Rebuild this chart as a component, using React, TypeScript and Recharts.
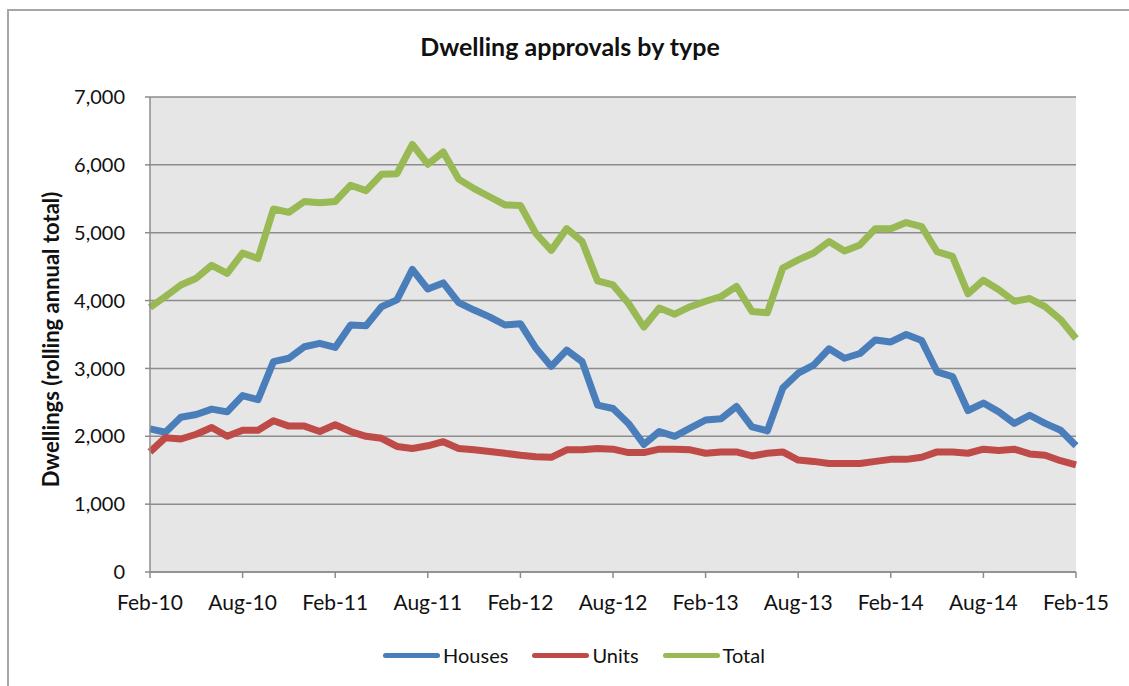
import { LineChart, Line, XAxis, YAxis, CartesianGrid, Legend } from "recharts";

const FONT = "Lato, 'Open Sans', sans-serif";

const months = [
  "Feb-10", "Mar-10", "Apr-10", "May-10", "Jun-10", "Jul-10", "Aug-10", "Sep-10", "Oct-10", "Nov-10", "Dec-10", "Jan-11",
  "Feb-11", "Mar-11", "Apr-11", "May-11", "Jun-11", "Jul-11", "Aug-11", "Sep-11", "Oct-11", "Nov-11", "Dec-11", "Jan-12",
  "Feb-12", "Mar-12", "Apr-12", "May-12", "Jun-12", "Jul-12", "Aug-12", "Sep-12", "Oct-12", "Nov-12", "Dec-12", "Jan-13",
  "Feb-13", "Mar-13", "Apr-13", "May-13", "Jun-13", "Jul-13", "Aug-13", "Sep-13", "Oct-13", "Nov-13", "Dec-13", "Jan-14",
  "Feb-14", "Mar-14", "Apr-14", "May-14", "Jun-14", "Jul-14", "Aug-14", "Sep-14", "Oct-14", "Nov-14", "Dec-14", "Jan-15",
  "Feb-15",
];

const houses = [
  2110, 2060, 2280, 2320, 2400, 2360, 2600, 2540, 3100, 3150, 3320, 3370,
  3310, 3640, 3630, 3910, 4010, 4460, 4170, 4260, 3970, 3860, 3760, 3640,
  3660, 3300, 3030, 3270, 3100, 2460, 2410, 2190, 1880, 2070, 2000, 2120,
  2240, 2260, 2440, 2140, 2080, 2710, 2930, 3050, 3290, 3150, 3220, 3420,
  3390, 3500, 3410, 2950, 2880, 2380, 2490, 2360, 2190, 2310, 2190, 2090,
  1860,
];

const units = [
  1770, 1980, 1960, 2030, 2130, 2000, 2090, 2090, 2230, 2150, 2150, 2070,
  2170, 2070, 2000, 1970, 1850, 1820, 1860, 1920, 1820, 1800, 1775, 1750,
  1720, 1700, 1690, 1800, 1800, 1820, 1810, 1760, 1760, 1810, 1810, 1800,
  1750, 1770, 1770, 1710, 1750, 1770, 1650, 1630, 1600, 1600, 1600, 1630,
  1660, 1660, 1690, 1770, 1770, 1750, 1810, 1790, 1810, 1740, 1720, 1640,
  1580,
];

const totals = [
  3900, 4060, 4230, 4330, 4520, 4400, 4700, 4620, 5350, 5300, 5460, 5440,
  5460, 5700, 5620, 5860, 5870, 6300, 6010, 6190, 5790, 5650, 5530, 5410,
  5400, 4990, 4740, 5060, 4870, 4290, 4230, 3960, 3610, 3890, 3800, 3910,
  3990, 4060, 4210, 3840, 3820, 4480, 4600, 4700, 4870, 4730, 4820, 5060,
  5060, 5150, 5090, 4720, 4650, 4100, 4300, 4160, 3990, 4030, 3910, 3720,
  3440,
];

const yTicks = [0, 1000, 2000, 3000, 4000, 5000, 6000, 7000];

const series = [
  { key: "Houses", color: "#4a7ebb", values: houses },
  { key: "Units", color: "#be4b48", values: units },
  { key: "Total", color: "#98b954", values: totals },
];

const data = months.map((m, i) => ({
  month: m,
  Houses: houses[i],
  Units: units[i],
  Total: totals[i],
}));

function LegendBox() {
  return (
    <div style={{ display: "flex", justifyContent: "center", alignItems: "center", gap: 24, height: 30, paddingLeft: 72, fontFamily: FONT, fontSize: 20, color: "#111" }}>
      {series.map((s) => (
        <div key={s.key} style={{ display: "flex", alignItems: "center" }}>
          <span style={{ display: "inline-block", width: 57, height: 5, borderRadius: 3, background: s.color, marginRight: 3 }} />
          <span>{s.key}</span>
        </div>
      ))}
    </div>
  );
}

const fmt = (v: number) => v.toLocaleString("en-US");

export default function App() {
  return (
    <div style={{ position: "absolute", left: 0, top: 0, width: 1129, height: 686, background: "#fff", overflow: "hidden" }}>
      <div style={{ position: "absolute", left: 7, top: 9, width: 1200, height: 800, border: "2px solid #a6a6a6" }} />
      <div style={{ position: "absolute", left: 0, top: 31, width: 1140, textAlign: "center", fontFamily: FONT, fontWeight: 700, fontSize: 25, color: "#111" }}>
        Dwelling approvals by type
      </div>
      <div style={{ position: "absolute", left: 0, top: 0 }}>
        <LineChart width={1129} height={686} data={data} margin={{ top: 97, right: 53, bottom: 16, left: 0 }}>
          <CartesianGrid vertical={false} stroke="#8c8c8c" strokeWidth={1.5} fill="#e6e6e6" />
          <XAxis
            dataKey="month"
            interval={5}
            height={68}
            tickSize={6}
            tickMargin={17}
            axisLine={{ stroke: "#8c8c8c", strokeWidth: 1.5 }}
            tickLine={{ stroke: "#8c8c8c", strokeWidth: 1.5 }}
            tick={{ fill: "#111", fontSize: 21, fontFamily: FONT }}
          />
          <YAxis
            width={150}
            domain={[0, 7000]}
            ticks={yTicks}
            tickFormatter={fmt}
            tickSize={5}
            tickMargin={20}
            axisLine={{ stroke: "#8c8c8c", strokeWidth: 1.5 }}
            tickLine={{ stroke: "#8c8c8c", strokeWidth: 1.5 }}
            tick={{ fill: "#111", fontSize: 20, fontFamily: FONT }}
            label={{
              content: (p: any) => {
                const vb = p.viewBox || { y: 97, height: 475 };
                const cx = 50;
                const cy = vb.y + vb.height / 2 + 5;
                return (
                  <text x={cx} y={cy} transform={`rotate(-90, ${cx}, ${cy})`} textAnchor="middle" dominantBaseline="central" fontFamily={FONT} fontWeight={700} fontSize={22} fill="#111">
                    Dwellings (rolling annual total)
                  </text>
                );
              },
            }}
          />
          <Legend verticalAlign="bottom" content={() => <LegendBox />} />
          {series.map((s) => (
            <Line
              key={s.key}
              dataKey={s.key}
              type="linear"
              stroke={s.color}
              strokeWidth={7}
              strokeLinejoin="round"
              dot={false}
              activeDot={false}
              isAnimationActive={false}
            />
          ))}
        </LineChart>
      </div>
    </div>
  );
}
